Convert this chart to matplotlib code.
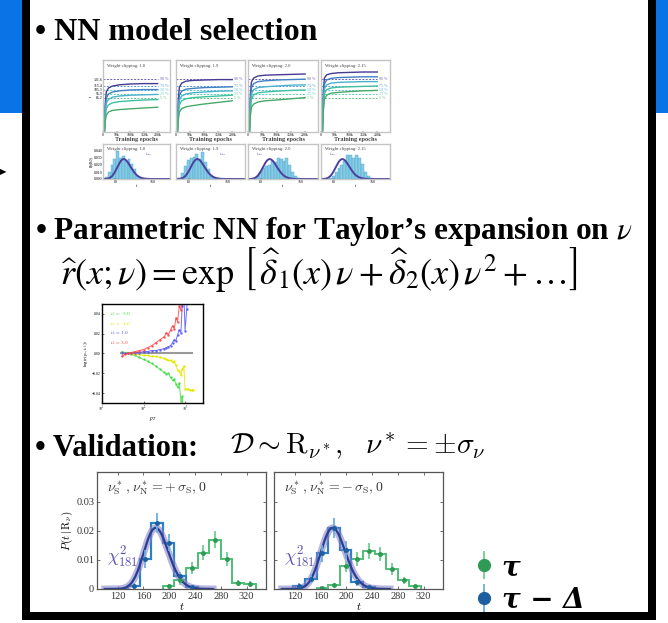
import math
import numpy as np
import matplotlib
matplotlib.use('Agg')
import matplotlib.pyplot as plt
from matplotlib.patches import Rectangle

plt.rcParams['font.family'] = ['Liberation Serif', 'DejaVu Serif']
plt.rcParams['mathtext.fontset'] = 'stix'

W, H = 668, 623

# ---------------- data ----------------
# NN model selection: training curves (t vs epochs, in k)
clip_values = ['1.8', '1.9', '2.0', '2.15']
epochs_k = [0, 5, 8, 12, 20, 35, 60, 100, 150, 200]
quantile_levels = [131.6, 115.4, 105.3, 95.9, 85.2]
quantile_labels = ['90 %', '75 %', '50 %', '25 %', '5 %']
curves_18 = [[0, 0, 70, 100, 110, 115, 118, 120, 121, 121],
             [0, 0, 55, 85, 95, 100, 103, 105, 106, 106],
             [0, 0, 45, 72, 82, 87, 90, 92, 93, 94],
             [0, 0, 35, 58, 68, 73, 76, 78, 80, 81],
             [0, 0, 25, 42, 50, 54, 56, 58, 60, 62]]
curves_19 = [[0, 0, 80, 112, 122, 127, 129, 130, 131, 131],
             [0, 0, 60, 92, 102, 107, 109, 111, 112, 113],
             [0, 0, 50, 80, 90, 95, 98, 100, 102, 103],
             [0, 0, 40, 68, 78, 83, 86, 88, 90, 92],
             [0, 0, 30, 50, 58, 63, 66, 70, 74, 78]]
curves_20 = [[0, 0, 90, 125, 135, 140, 142, 143, 144, 145],
             [0, 0, 75, 110, 121, 126, 128, 130, 131, 132],
             [0, 0, 62, 95, 106, 111, 113, 115, 117, 118],
             [0, 0, 50, 82, 93, 98, 100, 102, 104, 105],
             [0, 0, 38, 62, 70, 75, 78, 80, 83, 86]]
curves_215 = [[0, 0, 100, 135, 143, 146, 148, 149, 150, 150],
              [0, 0, 85, 120, 130, 134, 136, 137, 138, 138],
              [0, 0, 72, 108, 118, 122, 124, 125, 126, 126],
              [0, 0, 60, 96, 106, 110, 112, 113, 114, 115],
              [0, 0, 50, 82, 92, 97, 99, 101, 103, 104]]
train_curves = [curves_18, curves_19, curves_20, curves_215]

# NN model selection: t histograms
sel_centers = [61, 67, 73, 79, 85, 91, 97, 103, 109, 115, 121, 127, 133, 139, 145, 151, 157, 163]
sel_hist_18 = [0.003, 0.010, 0.020, 0.028, 0.040, 0.030, 0.033, 0.026, 0.028, 0.022, 0.014, 0.004, 0.001, 0, 0, 0, 0, 0]
sel_hist_19 = [0.002, 0.008, 0.018, 0.027, 0.030, 0.032, 0.036, 0.028, 0.038, 0.024, 0.014, 0.005, 0.001, 0, 0, 0, 0, 0]
sel_hist_20 = [0, 0.001, 0.004, 0.010, 0.016, 0.018, 0.020, 0.026, 0.024, 0.030, 0.028, 0.026, 0.030, 0.020, 0.010, 0.004, 0.001, 0]
sel_hist_215 = [0, 0, 0.001, 0.004, 0.010, 0.016, 0.020, 0.026, 0.034, 0.034, 0.030, 0.034, 0.030, 0.022, 0.010, 0.004, 0.001, 0]
sel_hists = [sel_hist_18, sel_hist_19, sel_hist_20, sel_hist_215]
sel_dof = 100

# Taylor expansion: log ratio vs pT
pt = [30, 35, 43, 51, 63, 79, 100, 126, 158, 200, 251, 316, 355, 398, 447, 501, 550,
      603, 661, 724, 794, 851, 933, 1000, 1096, 1202, 1318, 1445, 1585]
nu_m3 = [0.002, 0.001, 0.000, -0.001, -0.002, -0.004, -0.006, -0.008, -0.010, -0.013, -0.016,
         -0.019, -0.021, -0.020, -0.024, -0.027, -0.026, -0.031, -0.034, -0.030, -0.048, -0.043,
         -0.060, -0.070, -0.080, -0.090, -0.100, -0.100, -0.100]
nu_m1 = [0.001, 0.000, 0.000, 0.000, -0.001, -0.001, -0.002, -0.002, -0.003, -0.003, -0.004,
         -0.005, -0.006, -0.007, -0.007, -0.009, -0.008, -0.012, -0.017, -0.018, -0.022, -0.016,
         -0.013, -0.036, -0.036, -0.036, -0.037, -0.037, -0.037]
nu_p1 = [0.001, 0.000, 0.000, 0.000, 0.001, 0.001, 0.002, 0.002, 0.003, 0.003, 0.004,
         0.005, 0.006, 0.007, 0.008, 0.011, 0.014, 0.013, 0.019, 0.024, 0.021, 0.048,
         0.060, 0.023, 0.045, 0.070, 0.080, 0.090, 0.100]
nu_p3 = [-0.003, -0.001, 0.000, 0.001, 0.002, 0.003, 0.004, 0.006, 0.008, 0.011, 0.014,
         0.017, 0.021, 0.019, 0.024, 0.028, 0.025, 0.036, 0.032, 0.048, 0.044, 0.060,
         0.070, 0.080, 0.090, 0.100, 0.100, 0.100, 0.100]
nu_labels = ['-3.0', '-1.0', '1.0', '3.0']

# Validation histograms
val_edges = [100, 118, 136, 154, 172, 190, 208, 226, 244, 262, 280, 298, 316, 334]
val_blue_plus = [0, 0, 0.001, 0.0103, 0.0228, 0.016, 0.0045, 0.0008, 0, 0, 0, 0, 0]
val_blue_plus_err = [0, 0, 0.001, 0.003, 0.0035, 0.003, 0.0015, 0.0005, 0, 0, 0, 0, 0]
val_green_plus = [0, 0, 0, 0, 0, 0.001, 0.003, 0.0073, 0.0125, 0.017, 0.0103, 0.002, 0.0016]
val_green_plus_err = [0, 0, 0, 0, 0, 0.0008, 0.0015, 0.002, 0.0025, 0.003, 0.0025, 0.001, 0.001]
val_blue_minus = [0, 0.0012, 0.0035, 0.0123, 0.021, 0.0135, 0.0023, 0.0007, 0, 0, 0, 0, 0]
val_blue_minus_err = [0, 0.0008, 0.0015, 0.003, 0.0035, 0.003, 0.0012, 0.0005, 0, 0, 0, 0, 0]
val_green_minus = [0, 0, 0, 0.0003, 0.0014, 0.0078, 0.0103, 0.013, 0.012, 0.0069, 0.003, 0.0009, 0]
val_green_minus_err = [0, 0, 0, 0.0003, 0.0008, 0.002, 0.0025, 0.0028, 0.0025, 0.002, 0.0012, 0.0006, 0]
val_dof = 181
val_titles = [r'$\nu^*_{\mathrm{S}}\,,\nu^*_{\mathrm{N}} = +\,\sigma_{\mathrm{S}},0$',
              r'$\nu^*_{\mathrm{S}}\,,\nu^*_{\mathrm{N}} = -\,\sigma_{\mathrm{S}},0$']

# ---------------- helpers ----------------
def chi2_pdf(x, k):
    x = np.asarray(x, float)
    return np.exp((k / 2 - 1) * np.log(x) - x / 2 - (k / 2) * np.log(2) - math.lgamma(k / 2))


def add_ax(x0, y0, x1, y1):
    return fig.add_axes([x0 / W, 1 - y1 / H, (x1 - x0) / W, (y1 - y0) / H])


def ftext(x, y, s, **kw):
    return fig.text(x / W, 1 - y / H, s, **kw)


def nonzero_slice(vals):
    idx = [i for i, v in enumerate(vals) if v > 0]
    return idx[0], idx[-1] + 1


fig = plt.figure(figsize=(W / 100, H / 100), dpi=100)

# slide frame
for (x, y, w, h, c) in [(0, 0, 22, 113, '#0a73e6'), (656, 0, 12, 113, '#0a73e6'),
                        (22, 0, 8, 620, 'black'), (648, 0, 8, 620, 'black'),
                        (22, 612, 634, 8, 'black')]:
    fig.add_artist(Rectangle((x / W, 1 - (y + h) / H), w / W, h / H,
                             transform=fig.transFigure, color=c, lw=0))
ftext(0, 172, '\u25B6', fontsize=6, va='center', family='DejaVu Sans')

# titles
ftext(35, 32, '\u2022 NN model selection', fontsize=23, weight='bold', va='center')
ftext(35, 231, '\u2022 Parametric NN for Taylor\u2019s expansion on $\\nu$',
      fontsize=22.5, weight='bold', va='center')
ftext(60, 270, r'$\widehat{r}(x;\nu) = \exp\,\left[\,\widehat{\delta}_1(x)\,\nu + \widehat{\delta}_2(x)\,\nu^2 + \ldots\right]$',
      fontsize=26, va='center')
ftext(35, 449, '\u2022 Validation:', fontsize=22, weight='bold', va='center')
ftext(230, 446, r'$\mathcal{D} \sim \mathrm{R}_{\nu^*},\ \ \nu^* = \pm\sigma_{\nu}$',
      fontsize=21, va='center', math_fontfamily='cm')

# ---------------- NN model selection panels ----------------
curve_colors = ['#453a94', '#3f7fc4', '#4cb0cf', '#3fc0a0', '#4aa86a']
dash_colors = ['#6a60b8', '#5a9ad6', '#5cc0d8', '#58cfb0', '#6cc088']
cols = [(103, 170), (176, 245), (248, 318), (321, 390)]
for i, clip in enumerate(clip_values):
    x0, x1 = cols[i]
    ax = add_ax(x0, 60, x1, 132)
    for lev, lab, dc in zip(quantile_levels, quantile_labels, dash_colors):
        ax.hlines(lev, 0, 200, colors=dc, linestyles=(0, (2, 1.5)), lw=0.7)
        ax.text(207, lev, lab, fontsize=3, color=dc, va='center')
    for curve, cc in zip(train_curves[i], curve_colors):
        ax.plot(epochs_k, curve, color=cc, lw=1.0)
    ax.set_xlim(0, 245)
    ax.set_ylim(0, 180)
    ax.set_xticks([0, 50, 100, 150, 200])
    ax.set_xticklabels(['0', '50k', '100k', '150k', '200k'])
    ax.set_yticks(quantile_levels)
    if i == 0:
        ax.set_yticklabels([str(v) for v in quantile_levels])
        ax.set_ylabel('t', fontsize=3, labelpad=0)
    else:
        ax.set_yticklabels([])
    ax.tick_params(labelsize=2.8, length=1, width=0.3, pad=0.5, direction='in')
    ax.set_xlabel('Training epochs', fontsize=4.5, labelpad=0, weight='bold', color='#444')
    ax.text(0.06, 0.92, 'Weight clipping: ' + clip, transform=ax.transAxes, fontsize=3.3,
            va='center', color='#444')
    for s in ax.spines.values():
        s.set_color('#c4c4c4')
        s.set_linewidth(1.0)

    axh = add_ax(x0, 144, x1, 179)
    axh.bar(sel_centers, sel_hists[i], width=6, color='#86cbe4', edgecolor='#4aa8d0', lw=0.3)
    tt = np.linspace(55, 196, 200)
    axh.plot(tt, chi2_pdf(tt, sel_dof), color='#4b3f9f', lw=1.4)
    axh.set_xlim(54, 196)
    axh.set_ylim(0, 0.05)
    axh.set_xticks([80, 160])
    axh.set_yticks([0, 0.01, 0.02, 0.03, 0.04])
    if i == 0:
        axh.set_yticklabels(['0.000', '0.010', '0.020', '0.030', '0.040'])
        axh.set_ylabel('P(t|R0)', fontsize=2.8, labelpad=0)
    else:
        axh.set_yticklabels([])
    axh.set_xlabel('t', fontsize=3, labelpad=0)
    axh.tick_params(labelsize=2.8, length=1, width=0.3, pad=0.5, direction='in')
    axh.text(0.06, 0.87, 'Weight clipping: ' + clip, transform=axh.transAxes, fontsize=3.3,
             va='center', color='#444')
    obs_x = 0.62 if i < 2 else 0.12
    axh.text(obs_x, 0.66, r'$t_{obs}$', transform=axh.transAxes, fontsize=3.3, color='#5a50b0')
    for s in axh.spines.values():
        s.set_color('#c4c4c4')
        s.set_linewidth(1.0)

# ---------------- Taylor expansion panel ----------------
ax_t = add_ax(102, 304, 203, 403)
nu_colors = ['#44dd44', '#e6e600', '#5555ff', '#ff4444']
ax_t.hlines(0, pt[0] * 0.9, pt[-1], colors='#999999', lw=1.5)
for vals, c in zip([nu_m3, nu_m1, nu_p1, nu_p3], nu_colors):
    ax_t.plot(pt, vals, color=c, lw=0.7, marker='.', ms=1.5, alpha=0.85)
ax_t.set_xscale('log')
ax_t.set_xlim(10, 2700)
ax_t.set_ylim(-0.05, 0.05)
ax_t.set_yticks([-0.04, -0.02, 0.0, 0.02, 0.04])
ax_t.set_xticks([10, 100, 1000])
ax_t.set_xticklabels(['$10^1$', '$10^2$', '$10^3$'])
ax_t.minorticks_off()
ax_t.tick_params(labelsize=2.8, length=1.2, width=0.4, pad=1, direction='in')
ax_t.set_xlabel('$p_T$', fontsize=4, labelpad=1)
ax_t.set_ylabel('$\\log(r(p_T,\\nu_1))$', fontsize=3.5, labelpad=1)
for j, (lab, c) in enumerate(zip(nu_labels, nu_colors)):
    ax_t.text(0.08, 0.9 - j * 0.1, '$\\nu_1 = $ ' + lab, transform=ax_t.transAxes,
              fontsize=3.8, color=c, va='center')
for s in ax_t.spines.values():
    s.set_linewidth(1.0)

# ---------------- Validation panels ----------------
blue_c = '#2f7fc6'
green_c = '#3cb868'
centers = [(a + b) / 2 for a, b in zip(val_edges[:-1], val_edges[1:])]
val_sets = [(val_blue_plus, val_blue_plus_err, val_green_plus, val_green_plus_err),
            (val_blue_minus, val_blue_minus_err, val_green_minus, val_green_minus_err)]
handles = []
for k, (x0, x1) in enumerate([(97, 266), (274, 443)]):
    ax = add_ax(x0, 472, x1, 589)
    bv, be, gv, ge = val_sets[k]
    tt = np.linspace(100, 268, 300)
    ax.plot(tt, chi2_pdf(tt, val_dof), color='#8c84c8', lw=5, alpha=0.6)
    ax.plot(tt, chi2_pdf(tt, val_dof), color='#283f92', lw=1.6)

    g0, g1 = nonzero_slice(gv)
    ax.stairs(gv[g0:g1], val_edges[g0:g1 + 1], color=green_c, lw=1.4, alpha=0.9)
    eg = ax.errorbar(centers[g0:g1], gv[g0:g1], yerr=ge[g0:g1], fmt='o', ms=2.5,
                     color='#2e9a55', ecolor='#6fcf90', elinewidth=1.3, capsize=0)
    ax.stairs(bv[:9], val_edges[:10], color=blue_c, lw=1.6)
    b0, b1 = nonzero_slice(bv)
    ebb = ax.errorbar(centers[b0:b1], bv[b0:b1], yerr=be[b0:b1], fmt='o', ms=2.5,
                      color='#1d5f9e', ecolor='#6aaee0', elinewidth=1.3, capsize=0)
    handles = [eg, ebb]

    ax.set_xlim(88, 350)
    ax.set_ylim(0, 0.0403)
    ax.set_xticks([120, 160, 200, 240, 280, 320])
    ax.set_yticks([0, 0.01, 0.02, 0.03])
    if k == 0:
        ax.set_yticklabels(['0', '0.01', '0.02', '0.03'])
        ax.set_ylabel(r'$P(t\,|\,\mathrm{R}_{\nu})$', fontsize=8, labelpad=1, math_fontfamily='cm')
    else:
        ax.set_yticklabels([])
    ax.tick_params(labelsize=7.5, length=2.5, width=0.5, direction='in', top=True, right=True,
                   pad=2, colors='#333')
    ax.set_xlabel('$t$', fontsize=8, labelpad=0, math_fontfamily='cm')
    ax.text(0.06, 0.86, val_titles[k], transform=ax.transAxes, fontsize=10, color='#333',
            va='center', math_fontfamily='cm')
    ax.text(0.06, 0.27, r'$\chi^2_{181}$', transform=ax.transAxes, fontsize=13,
            color='#5a4fb0', va='center', math_fontfamily='cm')
    for s in ax.spines.values():
        s.set_color('#555555')
        s.set_linewidth(0.9)

fig.legend(handles, ['\u03c4', '\u03c4 \u2212 \u0394'], loc='upper left',
           bbox_to_anchor=(463 / W, 1 - 540 / H), bbox_transform=fig.transFigure,
           frameon=False, markerscale=3.4, handlelength=0.5, handletextpad=0.4,
           labelspacing=0.2, borderpad=0,
           prop=dict(family='DejaVu Serif', weight='bold', style='italic', size=20))

fig.savefig('out.png', dpi=100)
